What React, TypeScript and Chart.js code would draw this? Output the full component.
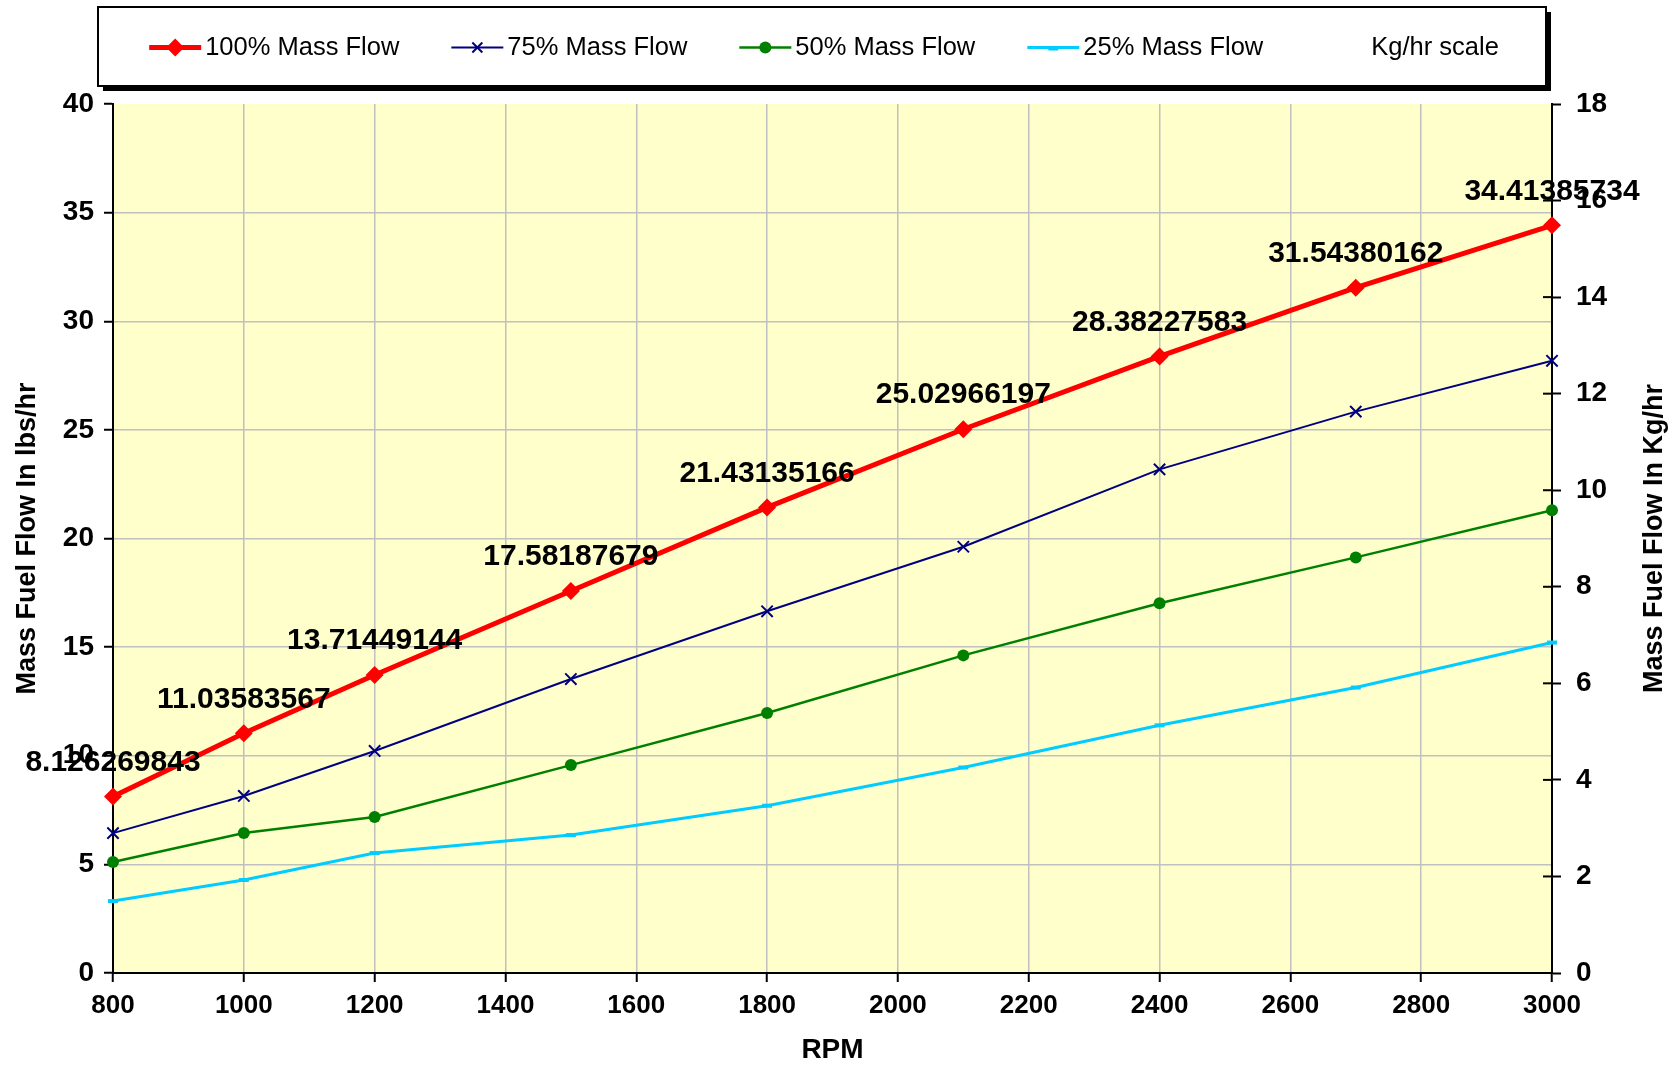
import React, { useEffect, useRef } from "react";
import { Chart, registerables } from "chart.js";

Chart.register(...registerables);

// ---- data ----
const rpm = [800, 1000, 1200, 1500, 1800, 2100, 2400, 2700, 3000];
const flow100 = [8.126269843, 11.03583567, 13.71449144, 17.58187679, 21.43135166, 25.02966197, 28.38227583, 31.54380162, 34.41385734];
const flow75 = [6.44, 8.15, 10.22, 13.53, 16.65, 19.62, 23.18, 25.84, 28.18];
const flow50 = [5.11, 6.44, 7.18, 9.57, 11.97, 14.62, 17.02, 19.13, 21.3];
const flow25 = [3.31, 4.28, 5.52, 6.35, 7.7, 9.46, 11.4, 13.14, 15.21];
const seriesLabels = ["100% Mass Flow", "75% Mass Flow", "50% Mass Flow", "25% Mass Flow", "Kg/hr scale"];
const xTitle = "RPM";
const yLeftTitle = "Mass Fuel Flow In lbs/hr";
const yRightTitle = "Mass Fuel Flow In Kg/hr";

const FONT = "'Liberation Sans', Arial, Helvetica, sans-serif";
const W = 1675;
const H = 1070;

type Mk = "diamond" | "x" | "circle" | "dash" | "none";

function drawMarker(ctx: CanvasRenderingContext2D, kind: Mk, x: number, y: number, color: string) {
  ctx.save();
  ctx.fillStyle = color;
  ctx.strokeStyle = color;
  if (kind === "diamond") {
    const r = 9;
    ctx.beginPath();
    ctx.moveTo(x, y - r);
    ctx.lineTo(x + r, y);
    ctx.lineTo(x, y + r);
    ctx.lineTo(x - r, y);
    ctx.closePath();
    ctx.fill();
  } else if (kind === "x") {
    const r = 5;
    ctx.lineWidth = 2;
    ctx.beginPath();
    ctx.moveTo(x - r, y - r);
    ctx.lineTo(x + r, y + r);
    ctx.moveTo(x + r, y - r);
    ctx.lineTo(x - r, y + r);
    ctx.stroke();
  } else if (kind === "circle") {
    ctx.beginPath();
    ctx.arc(x, y, 6, 0, Math.PI * 2);
    ctx.fill();
  } else if (kind === "dash") {
    ctx.lineWidth = 4;
    ctx.beginPath();
    ctx.moveTo(x - 5, y + 1);
    ctx.lineTo(x + 5, y + 1);
    ctx.stroke();
  }
  ctx.restore();
}

const markerKinds: Mk[] = ["diamond", "x", "circle", "dash", "none"];

const plotBgPlugin = {
  id: "plotBg",
  beforeDraw(chart: any) {
    const { ctx, chartArea } = chart;
    ctx.save();
    ctx.fillStyle = "#FFFFCC";
    ctx.fillRect(chartArea.left, chartArea.top, chartArea.right - chartArea.left, chartArea.bottom - chartArea.top);
    ctx.restore();
  },
};

const overlayPlugin = {
  id: "overlay",
  afterDraw(chart: any) {
    const { ctx, chartArea } = chart;
    const y1 = chart.scales.y1;

    // inner tick marks on the right axis ("+" look)
    ctx.save();
    ctx.strokeStyle = "#000";
    ctx.lineWidth = 2;
    y1.ticks.forEach((t: any, i: number) => {
      if (i === 0 || i === y1.ticks.length - 1) return;
      const py = y1.getPixelForValue(t.value);
      ctx.beginPath();
      ctx.moveTo(chartArea.right - 9, py);
      ctx.lineTo(chartArea.right, py);
      ctx.stroke();
    });
    ctx.restore();

    // right axis title, reading bottom-to-top
    ctx.save();
    ctx.translate(y1.right - 20, (chartArea.top + chartArea.bottom) / 2);
    ctx.rotate(-Math.PI / 2);
    ctx.fillStyle = "#000";
    ctx.font = `bold 27px ${FONT}`;
    ctx.textAlign = "center";
    ctx.textBaseline = "middle";
    ctx.fillText(yRightTitle, 0, 0);
    ctx.restore();

    // data labels on the 100% series
    const meta = chart.getDatasetMeta(0);
    ctx.save();
    ctx.fillStyle = "#000";
    ctx.font = `bold 30px ${FONT}`;
    ctx.textAlign = "center";
    ctx.textBaseline = "middle";
    meta.data.forEach((pt: any, i: number) => {
      ctx.fillText(String(flow100[i]), pt.x, pt.y - 34);
    });
    ctx.restore();

    // legend box
    const box = { left: 98, top: 7, right: 1546, bottom: 86 };
    const bw = box.right - box.left;
    const bh = box.bottom - box.top;
    ctx.save();
    ctx.fillStyle = "#000";
    ctx.fillRect(box.left + 5, box.top + 5, bw, bh);
    ctx.fillStyle = "#fff";
    ctx.fillRect(box.left, box.top, bw, bh);
    ctx.strokeStyle = "#000";
    ctx.lineWidth = 2;
    ctx.strokeRect(box.left, box.top, bw, bh);

    ctx.font = `25.5px ${FONT}`;
    const lineLen = 52;
    const gapAfterLine = 4;
    const itemGap = 52;
    const ds = chart.data.datasets;
    const widths = ds.map((d: any) => ctx.measureText(d.label).width);
    let total = 0;
    widths.forEach((w: number) => (total += lineLen + gapAfterLine + w));
    total += itemGap * (ds.length - 1);
    let x = (box.left + box.right) / 2 - total / 2 + 2;
    const cy = (box.top + box.bottom) / 2 + 1;
    ds.forEach((d: any, i: number) => {
      const kind = markerKinds[i];
      if (kind !== "none") {
        ctx.strokeStyle = d.borderColor;
        ctx.lineWidth = d.borderWidth;
        ctx.beginPath();
        ctx.moveTo(x, cy);
        ctx.lineTo(x + lineLen, cy);
        ctx.stroke();
        drawMarker(ctx, kind, x + lineLen / 2, cy, d.borderColor);
      }
      ctx.fillStyle = "#000";
      ctx.textAlign = "left";
      ctx.textBaseline = "middle";
      ctx.fillText(d.label, x + lineLen + gapAfterLine, cy);
      x += lineLen + gapAfterLine + widths[i] + itemGap;
    });
    ctx.restore();
  },
};

export default function App() {
  const ref = useRef<HTMLCanvasElement | null>(null);

  useEffect(() => {
    document.body.style.margin = "0";
    document.body.style.overflow = "hidden";
    const canvas = ref.current;
    if (!canvas) return;

    const pts = (ys: number[]) => rpm.map((x, i) => ({ x, y: ys[i] }));
    const tickFont = { family: FONT, size: 26, weight: "bold" as const };
    const yTickFont = { family: FONT, size: 28, weight: "bold" as const };
    const titleFont = { family: FONT, size: 27, weight: "bold" as const };
    const plain = (v: any) => String(v);

    const chart = new Chart(canvas, {
      type: "line",
      data: {
        datasets: [
          {
            label: seriesLabels[0],
            data: pts(flow100),
            borderColor: "#FF0000",
            backgroundColor: "#FF0000",
            borderWidth: 5,
            pointStyle: "rectRot",
            pointRadius: 9,
            pointBorderWidth: 0,
            pointBackgroundColor: "#FF0000",
            yAxisID: "y",
            clip: false,
            order: 1,
          },
          {
            label: seriesLabels[1],
            data: pts(flow75),
            borderColor: "#000080",
            backgroundColor: "#000080",
            borderWidth: 2,
            pointStyle: "crossRot",
            pointRadius: 8,
            pointBorderWidth: 2,
            pointBorderColor: "#000080",
            yAxisID: "y",
            clip: false,
            order: 2,
          },
          {
            label: seriesLabels[2],
            data: pts(flow50),
            borderColor: "#008000",
            backgroundColor: "#008000",
            borderWidth: 2.5,
            pointStyle: "circle",
            pointRadius: 6,
            pointBorderWidth: 0,
            pointBackgroundColor: "#008000",
            yAxisID: "y",
            clip: false,
            order: 3,
          },
          {
            label: seriesLabels[3],
            data: pts(flow25),
            borderColor: "#00CCFF",
            backgroundColor: "#00CCFF",
            borderWidth: 3,
            pointStyle: "line",
            pointRadius: 5,
            pointBorderWidth: 4,
            pointBorderColor: "#00CCFF",
            yAxisID: "y",
            clip: false,
            order: 4,
          },
          {
            label: seriesLabels[4],
            data: [],
            borderColor: "rgba(0,0,0,0)",
            backgroundColor: "rgba(0,0,0,0)",
            borderWidth: 0,
            pointRadius: 0,
            showLine: false,
            yAxisID: "y1",
          },
        ],
      },
      options: {
        responsive: false,
        maintainAspectRatio: false,
        animation: false,
        devicePixelRatio: 1,
        layout: { padding: { top: 104, left: 0, right: 0, bottom: 0 } },
        elements: { line: { tension: 0 } },
        plugins: {
          legend: { display: false },
          tooltip: { enabled: false },
          title: { display: false },
        },
        scales: {
          x: {
            type: "linear",
            min: 800,
            max: 3000,
            ticks: { stepSize: 200, font: tickFont, color: "#000", padding: 8, maxRotation: 0, callback: plain },
            grid: { color: "#C0C0C0", lineWidth: 1.5, tickLength: 9, tickColor: "#000", tickWidth: 2 },
            border: { display: true, color: "#000", width: 2 },
            title: { display: true, text: xTitle, font: { family: FONT, size: 28, weight: "bold" }, color: "#000", padding: { top: 0, bottom: 3 } },
            afterFit: (s: any) => {
              s.height = 97;
            },
          },
          y: {
            type: "linear",
            position: "left",
            min: 0,
            max: 40,
            ticks: { stepSize: 5, font: yTickFont, color: "#000", padding: 10, callback: plain },
            grid: {
              color: (c: any) => (c.tick && c.tick.value === 40 ? "rgba(0,0,0,0)" : "#C0C0C0"),
              lineWidth: 1.5,
              tickLength: 9,
              tickColor: "#000",
              tickWidth: 2,
            },
            border: { display: true, color: "#000", width: 2 },
            title: { display: true, text: yLeftTitle, font: titleFont, color: "#000", padding: { top: 11, bottom: 0 } },
            afterFit: (s: any) => {
              s.width = 113;
            },
          },
          y1: {
            type: "linear",
            position: "right",
            min: 0,
            max: 18,
            ticks: { stepSize: 2, font: yTickFont, color: "#000", padding: 15, callback: plain },
            grid: { drawOnChartArea: false, tickLength: 9, tickColor: "#000", tickWidth: 2 },
            border: { display: true, color: "#000", width: 2 },
            afterFit: (s: any) => {
              s.width = 123;
            },
          },
        },
      },
      plugins: [plotBgPlugin, overlayPlugin],
    });

    return () => {
      chart.destroy();
    };
  }, []);

  return (
    <div style={{ width: W, height: H, position: "relative" }}>
      <canvas ref={ref} width={W} height={H} style={{ display: "block", width: W, height: H }} />
    </div>
  );
}
